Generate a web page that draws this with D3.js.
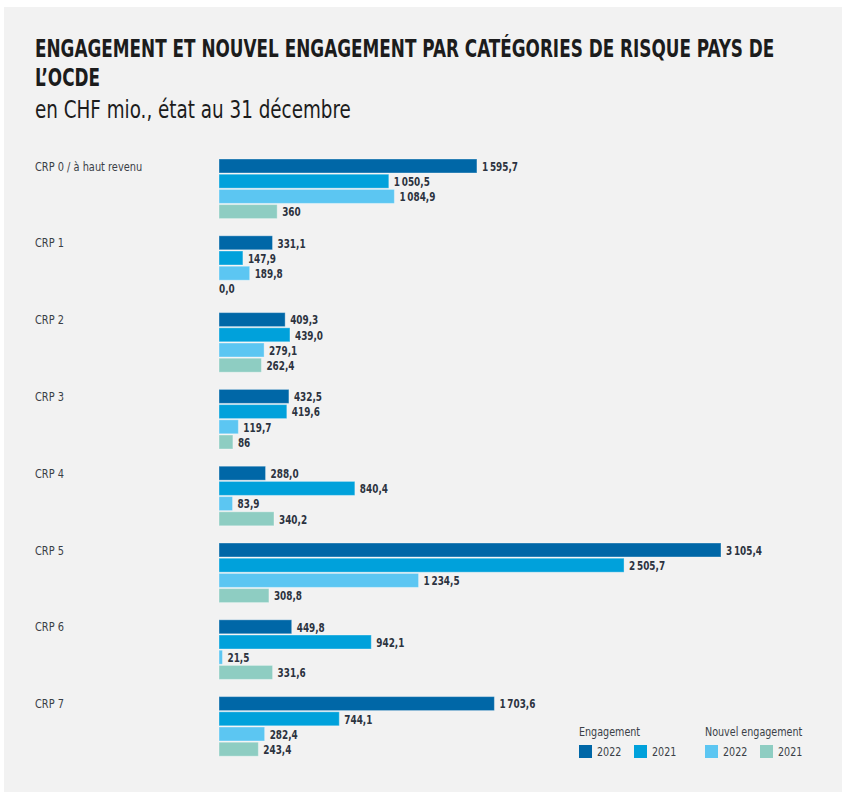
<!DOCTYPE html>
<html>
<head>
<meta charset="utf-8">
<script src="https://cdn.jsdelivr.net/npm/d3@7"></script>
<style>
  body { margin: 0; background: #fff; }
  svg text { font-family: "DejaVu Sans Condensed", "Liberation Sans Narrow", "Roboto", sans-serif; }
</style>
</head>
<body>
<svg id="chart"></svg>
<script>
// categories
const categories = ["CRP 0 / à haut revenu", "CRP 1", "CRP 2", "CRP 3", "CRP 4", "CRP 5", "CRP 6", "CRP 7"];
// series values (CHF mio.)
const engagement2022 = [1595.7, 331.1, 409.3, 432.5, 288.0, 3105.4, 449.8, 1703.6];
const engagement2021 = [1050.5, 147.9, 439.0, 419.6, 840.4, 2505.7, 942.1, 744.1];
const nouvel2022 = [1084.9, 189.8, 279.1, 119.7, 83.9, 1234.5, 21.5, 282.4];
const nouvel2021 = [360, 0.0, 262.4, 86, 340.2, 308.8, 331.6, 243.4];
// values that the source prints without decimals
const integerLabels = new Set(["nouvel2021-0", "nouvel2021-3"]);

const seriesKeys = ["engagement2022", "engagement2021", "nouvel2022", "nouvel2021"];
const seriesValues = { engagement2022, engagement2021, nouvel2022, nouvel2021 };
const colors = d3.scaleOrdinal(seriesKeys, ["#0067a7", "#00a1db", "#5cc6f2", "#8ecdc2"]);

const width = 842, height = 792;

const fr = d3.formatLocale({ decimal: ",", thousands: "\u2009", grouping: [3], currency: ["", " CHF"] });
const fmt1 = fr.format(",.1f"), fmt0 = fr.format(",.0f");

// narrow the available condensed font to look like the original's (scale around the text's x)
function squeeze(sel, f) {
  sel.each(function () {
    const tx = +this.getAttribute("x");
    d3.select(this).attr("transform", `translate(${tx * (1 - f)},0) scale(${f},1)`);
  });
}

const svg = d3.select("#chart").attr("width", width).attr("height", height);

// panel background
svg.append("rect").attr("x", 4).attr("y", 7).attr("width", width - 4).attr("height", height - 7)
  .attr("fill", "#f2f2f2");

// title
const title = svg.append("g").attr("fill", "#1c1c1c");
const t1 = title.append("text").attr("x", 35).attr("y", 57).attr("font-size", 24).attr("font-weight", "bold")
  .text("ENGAGEMENT ET NOUVEL ENGAGEMENT PAR CATÉGORIES DE RISQUE PAYS DE");
const titleF = 740 / t1.node().getComputedTextLength();
squeeze(t1, titleF);
const t2 = title.append("text").attr("x", 35).attr("y", 86).attr("font-size", 24).attr("font-weight", "bold")
  .text("L’OCDE");
squeeze(t2, titleF);
const t3 = title.append("text").attr("x", 35).attr("y", 118).attr("font-size", 24)
  .text("en CHF mio., état au 31 décembre");
squeeze(t3, 0.85);

// scales
const x = d3.scaleLinear().domain([0, d3.max(engagement2022)]).range([219, 721]);
const y0 = d3.scaleBand().domain(categories).range([159, 159 + 76.8 * categories.length]);
const y1 = d3.scaleBand().domain(seriesKeys).range([0, 59.6]).paddingInner(0.079);

const rows = categories.map((c, i) => ({
  cat: c,
  bars: seriesKeys.map(k => ({ key: k, i, value: seriesValues[k][i] }))
}));

const group = svg.append("g").selectAll("g").data(rows).join("g")
  .attr("transform", d => `translate(0,${y0(d.cat)})`);

group.append("text")
  .attr("x", 35).attr("y", y1.bandwidth() / 2 + 4.5)
  .attr("font-size", 13).attr("fill", "#3a3f47")
  .text(d => d.cat)
  .call(squeeze, 0.84);

const bar = group.selectAll("g.bar").data(d => d.bars).join("g").attr("class", "bar");

bar.append("rect")
  .attr("x", x(0))
  .attr("y", d => y1(d.key))
  .attr("width", d => x(d.value) - x(0))
  .attr("height", y1.bandwidth())
  .attr("fill", d => colors(d.key))
  .attr("stroke", "#ffffff").attr("stroke-opacity", 0.35).attr("stroke-width", 1);

bar.append("text")
  .attr("x", d => d.value > 0 ? x(d.value) + 5 : x(0))
  .attr("y", d => y1(d.key) + y1.bandwidth() / 2 + 4.8)
  .attr("font-size", 13).attr("font-weight", "bold").attr("fill", "#2c3340")
  .text(d => integerLabels.has(d.key + "-" + d.i) ? fmt0(d.value) : fmt1(d.value))
  .call(squeeze, 0.76);

// legend
const legend = svg.append("g").attr("font-size", 13).attr("fill", "#3a3f47");
const legendGroups = [
  { title: "Engagement", x: 579, items: [["engagement2022", "2022"], ["engagement2021", "2021"]] },
  { title: "Nouvel engagement", x: 705, items: [["nouvel2022", "2022"], ["nouvel2021", "2021"]] }
];
legendGroups.forEach(g => {
  legend.append("text").attr("x", g.x).attr("y", 736).text(g.title).call(squeeze, 0.82);
  g.items.forEach(([k, label], j) => {
    const lx = g.x + j * 55;
    legend.append("rect").attr("x", lx).attr("y", 745).attr("width", 13).attr("height", 13)
      .attr("fill", colors(k));
    legend.append("text").attr("x", lx + 18).attr("y", 756).text(label).call(squeeze, 0.82);
  });
});
</script>
</body>
</html>
